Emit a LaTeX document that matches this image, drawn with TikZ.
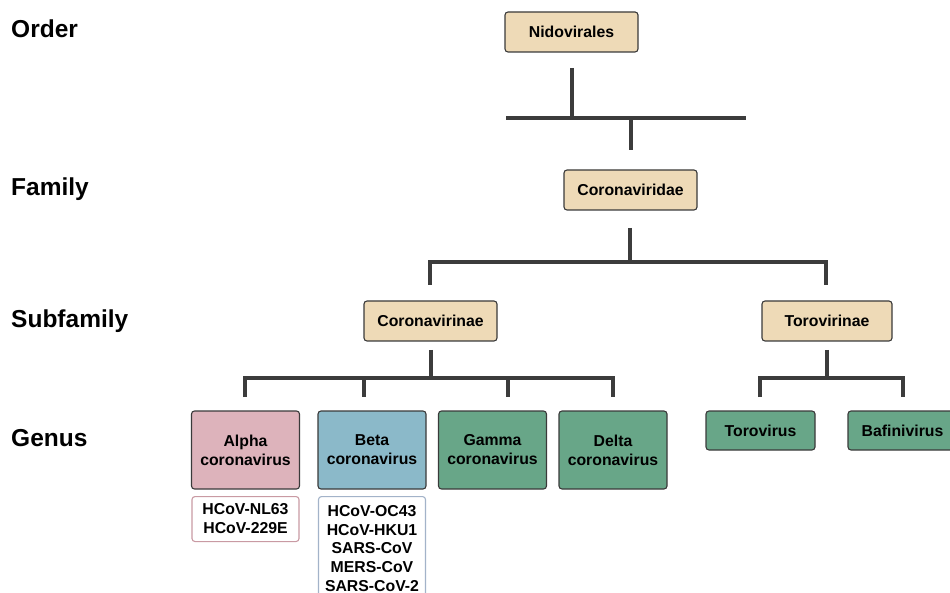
\documentclass[tikz,border=0pt]{standalone}
\usepackage{fontspec}
\setmainfont{Liberation Sans}
\definecolor{taxtan}{HTML}{EEDAB7}
\definecolor{alphapink}{HTML}{DDB3BB}
\definecolor{betablue}{HTML}{8BB9C9}
\definecolor{genusgreen}{HTML}{68A688}
\definecolor{boxline}{HTML}{3A3A3A}
\definecolor{branchgray}{HTML}{3C3C3C}
\definecolor{alphaline}{HTML}{C99AA3}
\definecolor{betaline}{HTML}{A3B3C9}

\begin{document}
\begin{tikzpicture}
  [x=1pt, y=-1pt,
   every node/.style={font=\bfseries\fontsize{15.8}{19}\selectfont, inner sep=0pt},
   rank/.style={anchor=west, font=\bfseries\fontsize{24.5}{28}\selectfont},
   taxon/.style={draw=boxline, line width=1.1pt, rounded corners=3pt, fill=taxtan,
                 minimum width=133pt, minimum height=40pt, align=center},
   genus/.style={taxon, minimum width=108pt, minimum height=78pt},
   smallgenus/.style={taxon, fill=genusgreen, minimum width=109pt, minimum height=39pt},
   species/.style={draw, line width=1.1pt, rounded corners=3pt, fill=white,
                   minimum width=107pt, align=center, anchor=north},
   branch/.style={draw=branchgray, line width=3.2pt}]
  \clip (0,0) rectangle (950,593);
  % ranks
  \node [rank] (order)     at (11,29)  {Order};
  \node [rank] (family)    at (11,189) {Family};
  \node [rank] (subfamily) at (11,321) {Subfamily};
  \node [rank] (genusrank) at (11,438) {Genus};
  % taxa
  \node [taxon] (nido)   at (571.5,32)  {Nidovirales};
  \node [taxon] (corvid) at (630.5,190) {Coronaviridae};
  \node [taxon] (corvin) at (430.5,321) {Coronavirinae};
  \node [taxon, minimum width=130pt] (torvin) at (827,321) {Torovirinae};
  \node [genus, fill=alphapink]  (alpha) at (245.5,450) {Alpha\\coronavirus};
  \node [genus, fill=betablue]   (beta)  at (372,450)   {Beta\\coronavirus};
  \node [genus, fill=genusgreen] (gamma) at (492.5,450) {Gamma\\coronavirus};
  \node [genus, fill=genusgreen] (delta) at (613,450)   {Delta\\coronavirus};
  \node [smallgenus] (toro) at (760.5,430.5) {Torovirus};
  \node [smallgenus] (bafi) at (902.5,430.5) {Bafinivirus};
  \node [species, draw=alphaline, minimum height=45pt] (alphasp) at (245.5,496)
        {HCoV-NL63\\HCoV-229E};
  \node [species, draw=betaline, minimum height=104pt, inner ysep=0pt,
         font=\bfseries\fontsize{15.8}{18.6}\selectfont] (betasp) at (372,496)
        {HCoV-OC43\\HCoV-HKU1\\SARS-CoV\\MERS-CoV\\SARS-CoV-2};
  % branch points
  \coordinate (nido-d)   at (572,68);
  \coordinate (nido-j)   at (572,118);
  \coordinate (bar-l)    at (506,118);
  \coordinate (bar-r)    at (746,118);
  \coordinate (corvid-u) at (631,118);
  \coordinate (corvid-e) at (631,150);
  \coordinate (corvid-d) at (630,228);
  \coordinate (corvid-j) at (630,262);
  \coordinate (corvin-u) at (430,285);
  \coordinate (torvin-u) at (826,285);
  \coordinate (corvin-d) at (431,350);
  \coordinate (corvin-j) at (431,378);
  \coordinate (torvin-d) at (827,350);
  \coordinate (torvin-j) at (827,378);
  % connectors
  \draw [branch] (nido-d) -- (nido-j);
  \draw [branch] (bar-l) -- (bar-r);
  \draw [branch] (corvid-u) -- (corvid-e);
  \draw [branch] (corvid-d) -- (corvid-j);
  \draw [branch, line join=miter] (corvin-u) |- (corvid-j) -| (torvin-u);
  \draw [branch] (corvin-d) -- (corvin-j);
  \draw [branch, line join=miter] (245,397) |- (corvin-j) -| (613,397);
  \draw [branch] (364,378) -- (364,397);
  \draw [branch] (508,378) -- (508,397);
  \draw [branch] (torvin-d) -- (torvin-j);
  \draw [branch, line join=miter] (760,397) |- (torvin-j) -| (903,397);
\end{tikzpicture}
\end{document}
